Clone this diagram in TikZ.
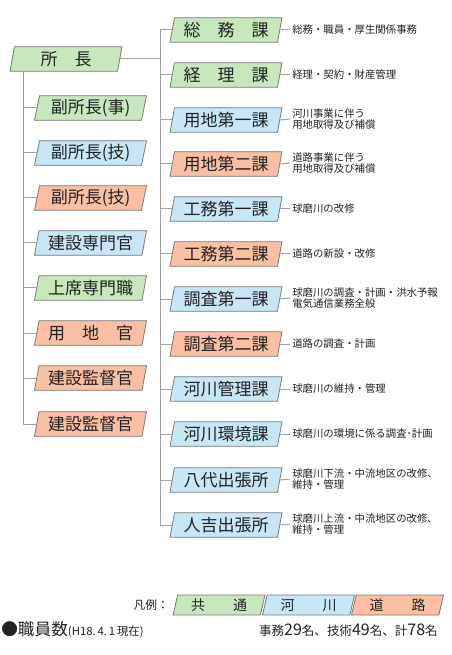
\documentclass[tikz,border=0pt]{standalone}
\usepackage{fontspec}
\setmainfont{Noto Sans CJK JP}
\usetikzlibrary{shapes.geometric}
\definecolor{gC}{HTML}{C9E7BD}
\definecolor{bC}{HTML}{C7E7F7}
\definecolor{oC}{HTML}{FBC0A3}
\definecolor{bordc}{HTML}{7A7A7A}
\definecolor{connc}{HTML}{A0A0A0}
\definecolor{txtc}{HTML}{222222}
\tikzset{
  pbox/.style={trapezium, trapezium left angle=74, trapezium right angle=106,
    trapezium stretches body, draw=bordc, line width=0.6pt,
    minimum width=84pt, minimum height=18.5pt, inner sep=0pt,
    font=\fontsize{12.75}{14}\selectfont, text=txtc},
  gbox/.style={pbox, fill=gC},
  bbox/.style={pbox, fill=bC},
  obox/.style={pbox, fill=oC},
  lbox/.style={trapezium, trapezium left angle=70, trapezium right angle=110,
    trapezium stretches body, draw=bordc, line width=0.6pt,
    minimum width=69pt, minimum height=15pt, inner sep=0pt,
    font=\fontsize{10.5}{12}\selectfont, text=txtc},
  desc/.style={anchor=west, align=left, inner sep=1.5pt, text=txtc,
    font=\fontsize{7.8}{8.8}\selectfont},
  conn/.style={draw=connc, line width=0.75pt},
}
\begin{document}
\begin{tikzpicture}[x=0.75pt, y=-0.75pt]
\useasboundingbox (0,0) rectangle (452,655);
\coordinate (lx) at (23,0);
\coordinate (rx) at (160,0);
% director
\node[gbox] (shocho) at (66,59) {所　長};
% left column
\node[gbox] (d1) at (90.5,108) {副所長(事)};
\node[bbox] (d2) at (90.5,153) {副所長(技)};
\node[obox] (d3) at (90.5,198) {副所長(技)};
\node[bbox] (d4) at (90.5,243) {建設専門官};
\node[gbox] (d5) at (90.5,288) {上席専門職};
\node[obox] (d6) at (90.5,333) {用　地　官};
\node[obox] (d7) at (90.5,378) {建設監督官};
\node[obox] (d8) at (90.5,424) {建設監督官};
% right column
\node[gbox] (r1) at (226,30) {総　務　課};
\node[gbox] (r2) at (226,75) {経　理　課};
\node[bbox] (r3) at (226,120) {用地第一課};
\node[obox] (r4) at (226,164) {用地第二課};
\node[bbox] (r5) at (226,209) {工務第一課};
\node[obox] (r6) at (226,254) {工務第二課};
\node[bbox] (r7) at (226,299) {調査第一課};
\node[obox] (r8) at (226,344) {調査第二課};
\node[bbox] (r9) at (226,389) {河川管理課};
\node[bbox] (r10) at (226,434) {河川環境課};
\node[bbox] (r11) at (226,480) {八代出張所};
\node[bbox] (r12) at (226,525) {人吉出張所};
% descriptions
\node[desc] (t1) at (290,30) {総務・職員・厚生関係事務};
\node[desc] (t2) at (290,75) {経理・契約・財産管理};
\node[desc] (t3) at (290,119) {河川事業に伴う\\用地取得及び補償};
\node[desc] (t4) at (290,163) {道路事業に伴う\\用地取得及び補償};
\node[desc] (t5) at (290,209) {球磨川の改修};
\node[desc] (t6) at (290,254) {道路の新設・改修};
\node[desc] (t7) at (290,298) {球磨川の調査・計画・洪水予報\\電気通信業務全般};
\node[desc] (t8) at (290,344) {道路の調査・計画};
\node[desc] (t9) at (290,389) {球磨川の維持・管理};
\node[desc] (t10) at (290,434) {球磨川の環境に係る調査･計画};
\node[desc] (t11) at (290,479) {球磨川下流・中流地区の改修、\\維持・管理};
\node[desc] (t12) at (290,524) {球磨川上流・中流地区の改修、\\維持・管理};
% connectors left
\draw[conn] (shocho.south -| lx) |- (d8.left side);
\foreach \i in {1,...,7} {\draw[conn] (d\i.left side -| lx) -- (d\i.left side);}
% connectors right
\draw[conn] (shocho.right side) -- (shocho.right side -| rx);
\draw[conn] (r1.left side) -| (r12.left side -| rx) -- (r12.left side);
\foreach \i in {2,...,11} {\draw[conn] (r\i.left side -| rx) -- (r\i.left side);}
\foreach \i in {1,...,12} {\draw[conn] (r\i.right side) -- (t\i.west);}
% legend
\node[lbox, fill=gC] (lg1) at (219,605) {共　　通};
\node[lbox, fill=bC] (lg2) at (308.5,605) {河　　川};
\node[lbox, fill=oC] (lg3) at (397.5,605) {道　　路};
\node[anchor=east, inner sep=0pt, text=txtc, font=\fontsize{8.8}{10}\selectfont] (lgl) at (169,605) {凡例：};
% footer
\node[anchor=west, inner sep=0pt, text=txtc] (staff) at (1,630)
  {\fontsize{12.5}{14}\selectfont ●職員数\fontsize{8.5}{10}\selectfont(H18.\,4.\,1\,現在)};
\node[anchor=east, inner sep=0pt, text=txtc] (count) at (438,630)
  {\fontsize{9.4}{11}\selectfont 事務{\fontsize{12}{13}\selectfont 29}名、技術{\fontsize{12}{13}\selectfont 49}名、計{\fontsize{12}{13}\selectfont 78}名};
\end{tikzpicture}
\end{document}
